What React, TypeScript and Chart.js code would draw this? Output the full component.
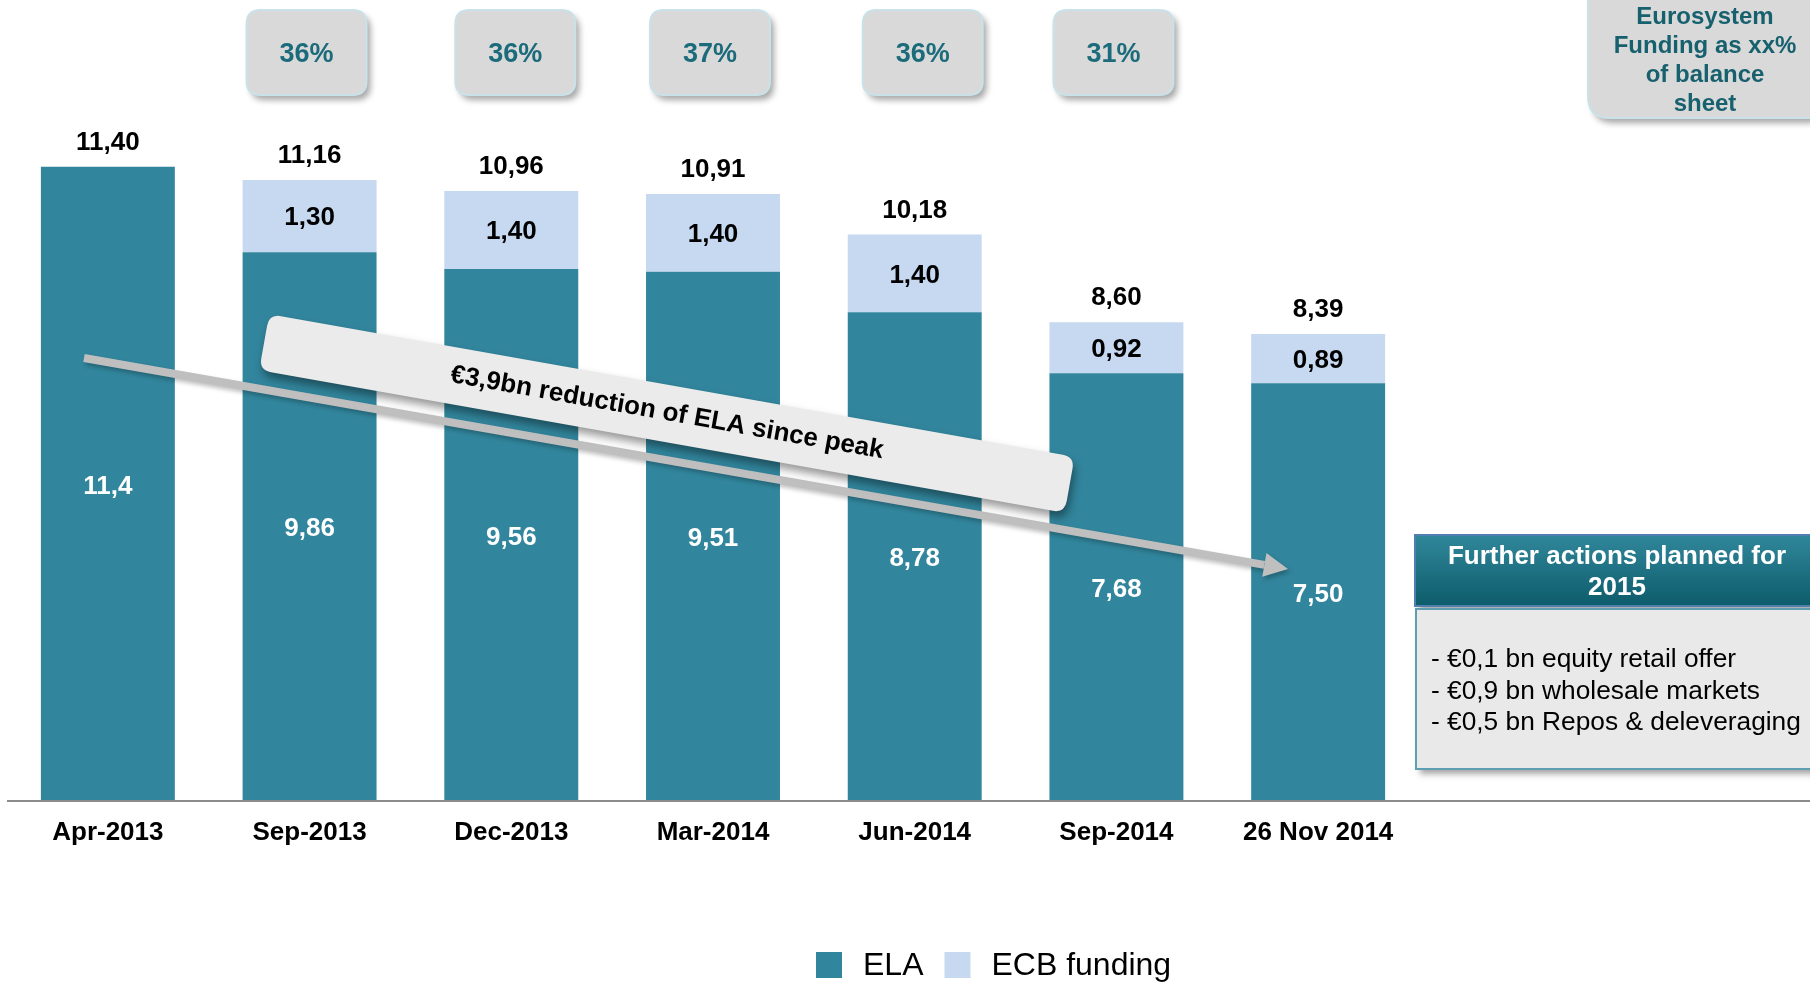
import React, { useEffect, useRef } from "react";
import { Chart, registerables } from "chart.js";

Chart.register(...registerables);

const categories = ["Apr-2013", "Sep-2013", "Dec-2013", "Mar-2014", "Jun-2014", "Sep-2014", "26 Nov 2014"];
const elaValues = [11.4, 9.86, 9.56, 9.51, 8.78, 7.68, 7.5];
const ecbValues = [0, 1.3, 1.4, 1.4, 1.4, 0.92, 0.89];
const totalValues = [11.4, 11.16, 10.96, 10.91, 10.18, 8.6, 8.39];
const elaLabels = ["11,4", "9,86", "9,56", "9,51", "8,78", "7,68", "7,50"];
const eurosystemShare: (number | null)[] = [null, 36, 36, 37, 36, 31, null];
const seriesNames = ["ELA", "ECB funding"];
const eurosystemTitle = ["Eurosystem", "Funding as xx%", "of balance", "sheet"];
const actionsTitle = ["Further actions planned for", "2015"];
const actions = ["- €0,1 bn equity retail offer", "- €0,9 bn wholesale markets", "- €0,5 bn Repos & deleveraging"];
const reductionLabel = "€3,9bn reduction of ELA since peak";

// small hand-placement nudges of the percentage call-outs (layout only)
const shareBoxNudge = [0, -3, 4, -3, 8, -3, 0];

const FONT = '"Liberation Sans", Arial, sans-serif';
const ELA_COLOR = "#31859c";
const ECB_COLOR = "#c6d9f1";

const fmt = (v: number) => v.toFixed(2).replace(".", ",");

function rr(ctx: CanvasRenderingContext2D, x: number, y: number, w: number, h: number, r: number) {
  ctx.beginPath();
  ctx.moveTo(x + r, y);
  ctx.lineTo(x + w - r, y);
  ctx.quadraticCurveTo(x + w, y, x + w, y + r);
  ctx.lineTo(x + w, y + h - r);
  ctx.quadraticCurveTo(x + w, y + h, x + w - r, y + h);
  ctx.lineTo(x + r, y + h);
  ctx.quadraticCurveTo(x, y + h, x, y + h - r);
  ctx.lineTo(x, y + r);
  ctx.quadraticCurveTo(x, y, x + r, y);
  ctx.closePath();
}

function shadowOn(ctx: CanvasRenderingContext2D, a = 0.35, ox = 4, oy = 4, blur = 6) {
  ctx.shadowColor = `rgba(0,0,0,${a})`;
  ctx.shadowOffsetX = ox;
  ctx.shadowOffsetY = oy;
  ctx.shadowBlur = blur;
}
function shadowOff(ctx: CanvasRenderingContext2D) {
  ctx.shadowColor = "transparent";
  ctx.shadowOffsetX = 0;
  ctx.shadowOffsetY = 0;
  ctx.shadowBlur = 0;
}

const annotPlugin = {
  id: "annot",
  afterDatasetsDraw(chart: any) {
    const ctx: CanvasRenderingContext2D = chart.ctx;
    const xs = chart.scales.x;
    const ys = chart.scales.y;
    const area = chart.chartArea;
    ctx.save();

    // axis line
    ctx.strokeStyle = "#8c8c8c";
    ctx.lineWidth = 2;
    ctx.beginPath();
    ctx.moveTo(7, area.bottom + 1);
    ctx.lineTo(chart.width, area.bottom + 1);
    ctx.stroke();

    // value labels
    ctx.textAlign = "center";
    ctx.textBaseline = "middle";
    categories.forEach((_, i) => {
      const x = xs.getPixelForValue(i);
      ctx.fillStyle = "#ffffff";
      ctx.font = `bold 26px ${FONT}`;
      const yEla = (ys.getPixelForValue(0) + ys.getPixelForValue(elaValues[i])) / 2;
      ctx.fillText(elaLabels[i], x, yEla + 3);
      if (ecbValues[i] > 0) {
        ctx.fillStyle = "#000000";
        const yEcb = (ys.getPixelForValue(elaValues[i]) + ys.getPixelForValue(elaValues[i] + ecbValues[i])) / 2;
        ctx.fillText(fmt(ecbValues[i]), x, yEcb + 2);
      }
      ctx.fillStyle = "#000000";
      ctx.fillText(fmt(totalValues[i]), x, ys.getPixelForValue(totalValues[i]) - 24);
    });

    // percentage boxes
    eurosystemShare.forEach((p, i) => {
      if (p == null) return;
      const cx = xs.getPixelForValue(i) + shareBoxNudge[i];
      const w = 120, h = 85, top = 10;
      shadowOn(ctx, 0.35, 4, 5, 6);
      ctx.fillStyle = "#d9d9d9";
      rr(ctx, cx - w / 2, top, w, h, 14);
      ctx.fill();
      shadowOff(ctx);
      ctx.strokeStyle = "#c9e2ea";
      ctx.lineWidth = 2;
      ctx.stroke();
      ctx.fillStyle = "#1b6b7b";
      ctx.font = `bold 27px ${FONT}`;
      ctx.textAlign = "center";
      ctx.textBaseline = "middle";
      ctx.fillText(`${p}%`, cx, top + h / 2 + 2);
    });

    // Eurosystem legend box (top right)
    shadowOn(ctx, 0.35, 4, 5, 6);
    ctx.fillStyle = "#d9d9d9";
    rr(ctx, 1588, -20, 240, 138, 22);
    ctx.fill();
    shadowOff(ctx);
    ctx.strokeStyle = "#c9e2ea";
    ctx.lineWidth = 2;
    ctx.stroke();
    ctx.fillStyle = "#17606e";
    ctx.font = `bold 24px ${FONT}`;
    eurosystemTitle.forEach((t, k) => ctx.fillText(t, 1705, 17 + k * 29));

    // Further actions box
    shadowOn(ctx, 0.35, 4, 5, 6);
    const grad = ctx.createLinearGradient(0, 535, 0, 606);
    grad.addColorStop(0, "#30879a");
    grad.addColorStop(1, "#0d5c6b");
    ctx.fillStyle = grad;
    ctx.fillRect(1415, 535, 420, 71);
    shadowOff(ctx);
    ctx.strokeStyle = "#4f7fae";
    ctx.lineWidth = 2;
    ctx.strokeRect(1415, 535, 420, 71);
    ctx.fillStyle = "#ffffff";
    ctx.font = `bold 26px ${FONT}`;
    actionsTitle.forEach((t, k) => ctx.fillText(t, 1617, 557 + k * 31));

    shadowOn(ctx, 0.35, 4, 5, 6);
    ctx.fillStyle = "#e9e9e9";
    ctx.fillRect(1416, 609, 420, 160);
    shadowOff(ctx);
    ctx.strokeStyle = "#5f9db0";
    ctx.lineWidth = 2;
    ctx.strokeRect(1416, 609, 420, 160);
    ctx.fillStyle = "#000000";
    ctx.font = `26.3px ${FONT}`;
    ctx.textAlign = "left";
    actions.forEach((t, k) => ctx.fillText(t, 1431, 660 + k * 31.5));

    // arrow
    const x0 = 84, y0 = 358, x1 = 1288, y1 = 569;
    const ang = Math.atan2(y1 - y0, x1 - x0);
    const headLen = 24, headW = 12;
    const bx = x1 - headLen * Math.cos(ang), by = y1 - headLen * Math.sin(ang);
    shadowOn(ctx, 0.25, 2, 3, 4);
    ctx.strokeStyle = "#bfbfbf";
    ctx.lineWidth = 8;
    ctx.lineCap = "butt";
    ctx.beginPath();
    ctx.moveTo(x0, y0);
    ctx.lineTo(bx, by);
    ctx.stroke();
    ctx.fillStyle = "#bfbfbf";
    ctx.beginPath();
    ctx.moveTo(x1, y1);
    ctx.lineTo(bx - headW * Math.sin(ang), by + headW * Math.cos(ang));
    ctx.lineTo(bx + headW * Math.sin(ang), by - headW * Math.cos(ang));
    ctx.closePath();
    ctx.fill();
    shadowOff(ctx);

    // rotated reduction label box
    ctx.save();
    ctx.translate(667, 413);
    ctx.rotate((10.05 * Math.PI) / 180);
    shadowOn(ctx, 0.4, 2, 6, 8);
    ctx.fillStyle = "#ebebeb";
    rr(ctx, -409, -28, 818, 57, 12);
    ctx.fill();
    shadowOff(ctx);
    ctx.fillStyle = "#000000";
    ctx.font = `bold 26px ${FONT}`;
    ctx.textAlign = "center";
    ctx.textBaseline = "middle";
    ctx.fillText(reductionLabel, 0, 0);
    ctx.restore();

    // legend
    const ds = chart.data.datasets;
    let lx = 816;
    const ly = 965;
    ctx.font = `32px ${FONT}`;
    ctx.textAlign = "left";
    ctx.textBaseline = "middle";
    ds.forEach((d: any) => {
      ctx.fillStyle = d.backgroundColor;
      ctx.fillRect(lx, ly - 13, 26, 26);
      ctx.fillStyle = "#000000";
      ctx.fillText(d.label, lx + 47, ly + 1);
      lx += 47 + ctx.measureText(d.label).width + 21;
    });

    ctx.restore();
  },
};

export default function App() {
  const ref = useRef<HTMLCanvasElement | null>(null);
  useEffect(() => {
    if (!ref.current) return;
    const chart = new Chart(ref.current, {
      type: "bar",
      data: {
        labels: categories,
        datasets: [
          {
            label: seriesNames[0],
            data: elaValues,
            backgroundColor: ELA_COLOR,
            borderWidth: 0,
            barPercentage: 0.664,
            categoryPercentage: 1,
          },
          {
            label: seriesNames[1],
            data: ecbValues,
            backgroundColor: ECB_COLOR,
            borderWidth: 0,
            barPercentage: 0.664,
            categoryPercentage: 1,
          },
        ],
      },
      options: {
        animation: false,
        responsive: true,
        maintainAspectRatio: false,
        layout: { padding: { left: 7, right: 391, top: 0, bottom: 0 } },
        plugins: { legend: { display: false }, tooltip: { enabled: false } },
        scales: {
          x: {
            stacked: true,
            grid: { display: false, drawTicks: false },
            border: { display: false },
            ticks: {
              color: "#000000",
              font: { family: FONT, size: 26, weight: "bold" },
              padding: 17,
              maxRotation: 0,
              autoSkip: false,
            },
            afterFit: (s: any) => {
              s.height = 183;
            },
          },
          y: { stacked: true, display: false, min: 0, max: 14.4 },
        },
      } as any,
      plugins: [annotPlugin],
    });
    return () => chart.destroy();
  }, []);
  return (
    <div style={{ position: "fixed", left: 0, top: 0, width: 1810, height: 983, background: "#ffffff" }}>
      <canvas ref={ref} />
    </div>
  );
}
